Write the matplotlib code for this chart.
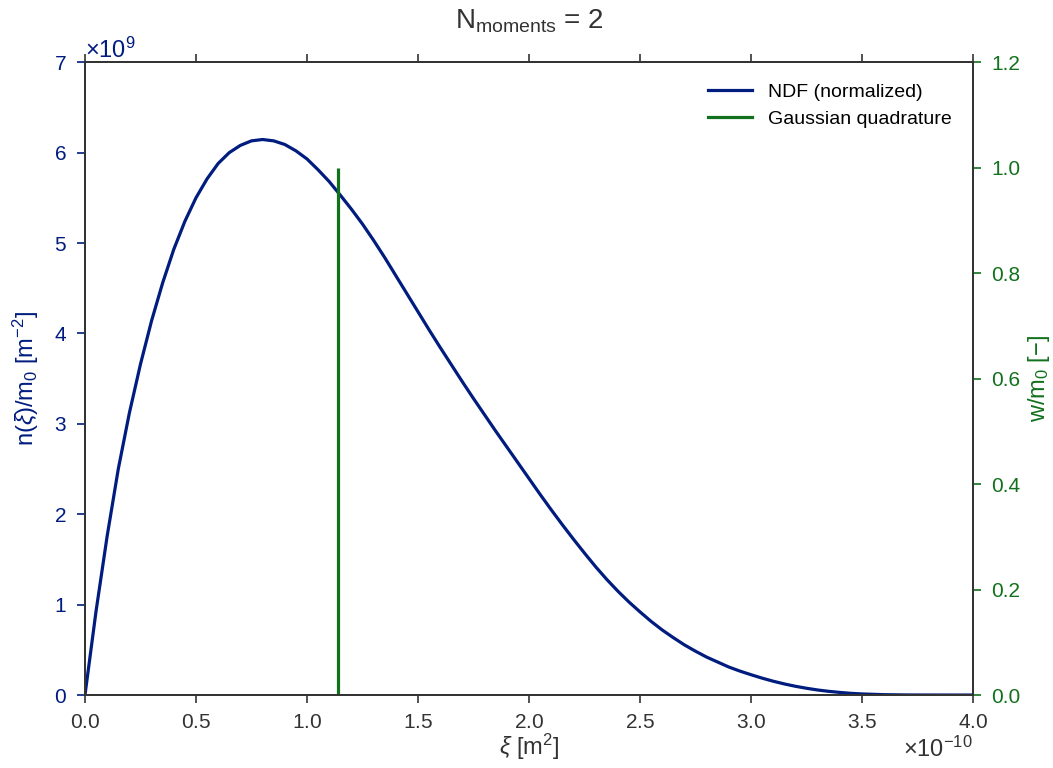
import numpy as np
import matplotlib
matplotlib.use('Agg')
import matplotlib.pyplot as plt

plt.rcParams['font.family'] = ['Liberation Sans', 'DejaVu Sans']
plt.rcParams['mathtext.fontset'] = 'custom'
plt.rcParams['mathtext.rm'] = 'Liberation Sans'
plt.rcParams['mathtext.it'] = 'Liberation Sans:italic'
plt.rcParams['mathtext.bf'] = 'Liberation Sans:bold'
plt.rcParams['axes.formatter.use_mathtext'] = True

# NDF samples: xi in units of 1e-10 m^2, n/m0 in units of 1e9 m^-2
xi = [0.00, 0.05, 0.10, 0.15, 0.20, 0.25, 0.30, 0.35, 0.40, 0.45,
      0.50, 0.55, 0.60, 0.65, 0.70, 0.75, 0.80, 0.85, 0.90, 0.95,
      1.00, 1.05, 1.10, 1.15, 1.20, 1.25, 1.30, 1.35, 1.40, 1.45,
      1.50, 1.55, 1.60, 1.65, 1.70, 1.75, 1.80, 1.85, 1.90, 1.95,
      2.00, 2.05, 2.10, 2.15, 2.20, 2.25, 2.30, 2.35, 2.40, 2.45,
      2.50, 2.55, 2.60, 2.65, 2.70, 2.75, 2.80, 2.85, 2.90, 2.95,
      3.00, 3.05, 3.10, 3.15, 3.20, 3.25, 3.30, 3.35, 3.40, 3.45,
      3.50, 3.60, 3.70, 3.80, 3.90, 4.00]
ndf = [0.00, 0.93, 1.76, 2.50, 3.12, 3.66, 4.14, 4.56, 4.93, 5.24,
       5.50, 5.71, 5.88, 6.00, 6.08, 6.13, 6.145, 6.13, 6.09, 6.02,
       5.93, 5.81, 5.68, 5.53, 5.375, 5.21, 5.03, 4.84, 4.64, 4.44,
       4.24, 4.04, 3.845, 3.655, 3.465, 3.28, 3.10, 2.92, 2.745, 2.57,
       2.395, 2.22, 2.05, 1.885, 1.725, 1.57, 1.42, 1.28, 1.15, 1.03,
       0.92, 0.815, 0.72, 0.635, 0.555, 0.485, 0.42, 0.365, 0.31, 0.265,
       0.225, 0.187, 0.153, 0.123, 0.097, 0.075, 0.056, 0.041, 0.029, 0.019,
       0.012, 0.004, 0.001, 0.0003, 0.0, 0.0]

# quadrature node (1e-10 m^2) and weight w/m0
nodes = [1.14]
weights = [1.0]

blue = '#001c7f'
green = '#12711c'
grey = '#333333'

xi = np.array(xi) * 1e-10
ndf = np.array(ndf) * 1e9
nodes = np.array(nodes) * 1e-10

fig = plt.figure(figsize=(10.53, 7.68), dpi=100)
ax1 = fig.add_axes([0.0807, 0.095, 0.8433, 0.824])
ax2 = ax1.twinx()

l1, = ax1.plot(xi, ndf, color=blue, lw=2.3, label='NDF (normalized)')
ax2.vlines(nodes, 0, weights, color=green, lw=2.3)
l2, = ax2.plot([], [], color=green, lw=2.3, label='Gaussian quadrature')

ax1.set_xlim(0, 4e-10)
ax1.set_ylim(0, 7e9)
ax2.set_ylim(0, 1.2)
ax1.set_xticks(np.arange(0, 4.01, 0.5) * 1e-10)
ax1.set_yticks(np.arange(0, 7.01, 1) * 1e9)
ax2.set_yticks(np.arange(0, 1.21, 0.2))
ax2.yaxis.set_major_formatter(plt.FormatStrFormatter('%.1f'))

ax1.tick_params(axis='x', direction='out', length=6, width=1.2, top=True,
                labelsize=15, colors=grey, pad=7)
ax1.tick_params(axis='y', direction='out', length=6, width=1.2,
                labelsize=15, colors=blue, pad=7)
ax2.tick_params(axis='y', direction='out', length=6, width=1.2,
                labelsize=15, colors=green, pad=7)
ax2.tick_params(axis='x', top=False)

for ax in (ax1, ax2):
    for s in ax.spines.values():
        s.set_color(grey)
        s.set_linewidth(1.3)

ax1.xaxis.get_offset_text().set_fontsize(17)
ax1.xaxis.get_offset_text().set_color(grey)
ax1.yaxis.get_offset_text().set_fontsize(17)
ax1.yaxis.get_offset_text().set_color(blue)

ax1.set_xlabel(r'$\xi$ [m$^2$]', fontsize=17, color=grey, labelpad=0)
ax1.set_ylabel(r'n($\xi$)/m$_0$ [m$^{-2}$]', fontsize=17, color=blue, labelpad=9)
ax2.set_ylabel(r'w/m$_0$ [$-$]', fontsize=17, color=green, labelpad=4)
ax1.set_title(r'N$_{\mathrm{moments}}$ = 2', fontsize=20, color=grey, pad=24)

ax2.legend([l1, l2], ['NDF (normalized)', 'Gaussian quadrature'],
           loc='upper right', frameon=False, fontsize=14,
           handlelength=2.3, borderaxespad=0.7, labelspacing=0.45)

fig.savefig('out.png', dpi=100)
